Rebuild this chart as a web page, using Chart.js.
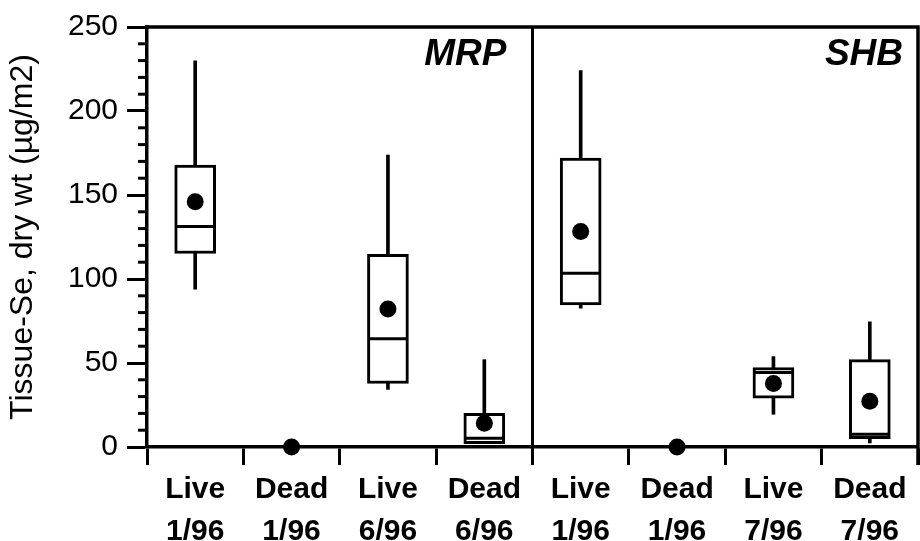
<!DOCTYPE html>
<html>
<head>
<meta charset="utf-8">
<script src="https://cdn.jsdelivr.net/npm/chart.js@4/dist/chart.umd.min.js"></script>
<style>
  html, body { margin: 0; padding: 0; background: #fff; }
  #wrap { width: 920px; height: 541px; }
</style>
</head>
<body>
<div id="wrap"><canvas id="c" width="920" height="541"></canvas></div>
<script>
// Tissue selenium by site (MRP, SHB), tissue state and sampling date
const categories = [
  ["Live", "1/96"], ["Dead", "1/96"], ["Live", "6/96"], ["Dead", "6/96"],
  ["Live", "1/96"], ["Dead", "1/96"], ["Live", "7/96"], ["Dead", "7/96"]
];
const whiskerLow  = [94,    null, 34.3,  2.0,  82.7,  null, 19.5, 2.4];
const quartile1   = [115.2, null, 37.8,  2.0,  84.5,  null, 29.0, 5.0];
const medians     = [131.2, null, 64.4,  5.2,  103.4, null, 44.3, 7.6];
const quartile3   = [167.8, null, 114.7, 20.1, 172.0, null, 47.3, 52.0];
const whiskerHigh = [229.9, null, 173.8, 52.0, 224.0, null, 53.8, 74.5];
const means       = [146.0, 0,    82.2,  14.2, 128.3, 0,    37.8, 27.2];
const sites = ["MRP", "SHB"];
const yTicks = [0, 50, 100, 150, 200, 250];

const FONT = "'Liberation Sans', Arial, Helvetica, sans-serif";

const range = (lo, hi) => lo.map((v, i) => (v == null ? null : [v, hi[i]]));

// Frame, minor ticks, site divider and site names
const decorations = {
  id: 'decorations',
  afterDraw(chart) {
    const { ctx, chartArea: a, scales: { x, y } } = chart;
    ctx.save();
    ctx.strokeStyle = '#000';
    ctx.lineCap = 'butt';

    // minor ticks every 10 units
    ctx.lineWidth = 3;
    for (let v = 0; v <= 250; v += 10) {
      if (v % 50 === 0) continue;
      const py = y.getPixelForValue(v);
      ctx.beginPath();
      ctx.moveTo(a.left - 9, py);
      ctx.lineTo(a.left, py);
      ctx.stroke();
    }

    // top and right frame
    ctx.lineWidth = 3.5;
    ctx.beginPath();
    ctx.moveTo(a.left - 1.5, a.top);
    ctx.lineTo(a.right, a.top);
    ctx.lineTo(a.right, a.bottom + 18);
    ctx.stroke();

    // divider between the two sites
    const xd = (x.getPixelForValue(3) + x.getPixelForValue(4)) / 2;
    ctx.lineWidth = 3;
    ctx.beginPath();
    ctx.moveTo(xd, a.top);
    ctx.lineTo(xd, a.bottom + 18);
    ctx.stroke();

    // site names
    ctx.fillStyle = '#000';
    ctx.font = `italic bold 37px ${FONT}`;
    ctx.textAlign = 'right';
    ctx.textBaseline = 'alphabetic';
    ctx.fillText(sites[0], xd - 26, a.top + 38);
    ctx.fillText(sites[1], a.right - 15, a.top + 38);
    ctx.restore();
  }
};

new Chart(document.getElementById('c'), {
  type: 'bar',
  data: {
    labels: categories,
    datasets: [
      {
        type: 'line', label: 'mean', data: means, order: 0,
        showLine: false, clip: false,
        pointRadius: 8.5, pointHoverRadius: 8.5,
        pointBackgroundColor: '#000', pointBorderWidth: 0
      },
      {
        type: 'line', label: 'median', data: medians, order: 1,
        showLine: false,
        pointStyle: 'line', pointRadius: 18.5, pointHoverRadius: 18.5,
        pointBorderColor: '#000', pointBorderWidth: 3
      },
      {
        label: 'box', data: range(quartile1, quartile3), order: 2,
        grouped: false, barThickness: 41,
        backgroundColor: '#fff', borderColor: '#000',
        borderWidth: 3, borderSkipped: false
      },
      {
        label: 'whisker', data: range(whiskerLow, whiskerHigh), order: 3,
        grouped: false, barThickness: 3,
        backgroundColor: '#000', borderWidth: 0
      }
    ]
  },
  options: {
    responsive: false,
    animation: false,
    events: [],
    layout: { autoPadding: false, padding: { top: 24, right: 2, left: 0, bottom: 0 } },
    plugins: { legend: { display: false }, tooltip: { enabled: false } },
    scales: {
      x: {
        offset: true,
        afterFit: s => { s.height = 94; s.paddingLeft = 0; s.paddingRight = 0; },
        grid: {
          offset: true, drawOnChartArea: false,
          tickLength: 18, tickWidth: 3, tickColor: '#000'
        },
        border: { display: true, color: '#000', width: 3.5 },
        ticks: {
          color: '#000', padding: 4, maxRotation: 0, autoSkip: false,
          font: { family: FONT, size: 30, weight: 'bold', lineHeight: 1.4 }
        }
      },
      y: {
        min: 0, max: 250,
        afterFit: s => { s.width = 147; },
        afterBuildTicks: s => { s.ticks = yTicks.map(v => ({ value: v })); },
        grid: {
          drawOnChartArea: false,
          tickLength: 20, tickWidth: 3, tickColor: '#000'
        },
        border: { display: true, color: '#000', width: 3.5 },
        ticks: {
          color: '#000', padding: 9,
          font: { family: FONT, size: 30 }
        },
        title: {
          display: true,
          text: 'Tissue-Se, dry wt (µg/m2)',
          color: '#000',
          padding: { top: 4, bottom: 0 },
          font: { family: FONT, size: 32, lineHeight: 1.2 }
        }
      }
    }
  },
  plugins: [decorations]
});
</script>
</body>
</html>
